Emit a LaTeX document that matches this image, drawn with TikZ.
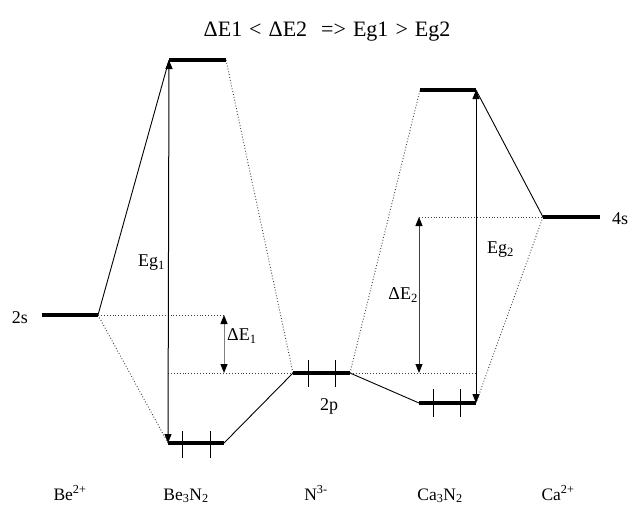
\documentclass[tikz,border=0pt]{standalone}
\usepackage{fontspec}
\setmainfont{Liberation Serif}
\usetikzlibrary{arrows.meta}
\tikzset{
  level/.style={line width=4pt, line cap=butt},
  link/.style={line width=0.9pt},
  dots/.style={line width=0.9pt, dotted, black!75},
  tick/.style={line width=1pt},
  gap/.style={line width=1pt, {Triangle[length=9pt,width=7pt,color=black]}-{Triangle[length=9pt,width=7pt,color=black]}},
  lbl/.style={font=\fontsize{18}{21}\selectfont, inner sep=0pt},
  bot/.style={font=\fontsize{17.5}{20}\selectfont, inner sep=0pt, anchor=base}
}
\begin{document}
\begin{tikzpicture}[x=1pt,y=-1pt]
\useasboundingbox (0,0) rectangle (629,504);
% level end points
\coordinate (beL) at (42,315);   \coordinate (beR) at (98,315);
\coordinate (btL) at (169,60);   \coordinate (btR) at (226,60);
\coordinate (bbL) at (168,443);  \coordinate (bbR) at (224,443);
\coordinate (nL) at (293,373);   \coordinate (nR) at (350,373);
\coordinate (ctL) at (420,90);   \coordinate (ctR) at (476,90);
\coordinate (cbL) at (419,403);  \coordinate (cbR) at (476,403);
\coordinate (caL) at (543,217);  \coordinate (caR) at (600,217);
% helper points
\coordinate (d1t) at (224,315);  \coordinate (d1b) at (224,373);
\coordinate (e1m) at (168,373);
\coordinate (d2t) at (419,217);  \coordinate (d2b) at (419,373);
\coordinate (e2m) at (476,373);
% connectors
\draw[link] (beR) -- (btL);
\draw[dots] (beR) -- (bbL);
\draw[dots] (beR) -- (d1t);
\draw[dots] (btR) -- (nL);
\draw[link] (bbR) -- (nL);
\draw[dots] (e1m) -- (nL);
\draw[dots] (nR) -- (ctL);
\draw[link] (nR) -- (cbL);
\draw[dots] (nR) -- (e2m);
\draw[dots] (d2t) -- (caL);
\draw[link] (caL) -- (ctR);
\draw[dots] (caL) -- (cbR);
% levels
\draw[level] (beL) -- (beR);
\draw[level] (btL) -- (btR);
\draw[level] (bbL) -- (bbR);
\draw[level] (nL) -- (nR);
\draw[level] (ctL) -- (ctR);
\draw[level] (cbL) -- (cbR);
\draw[level] (caL) -- (caR);
% electron ticks
\draw[tick] (182,431) -- (182,458);
\draw[tick] (210,431) -- (210,458);
\draw[tick] (308,360) -- (308,387);
\draw[tick] (335,360) -- (335,387);
\draw[tick] (433,389) -- (433,417);
\draw[tick] (460,389) -- (460,417);
% gap arrows
\draw[gap] (bbL) -- (btL);
\draw[gap, black!50] (d1t) -- (d1b);
\draw[gap, black!75] (d2t) -- (d2b);
\draw[gap] (cbR) -- (ctR);
% labels
\node[font=\fontsize{22}{26}\selectfont, anchor=base, inner sep=0pt] (title) at (327,36)
  {ΔE1\hspace{7pt}<\hspace{7pt}ΔE2\hspace{14pt}=>\hspace{7pt}Eg1\hspace{7pt}>\hspace{7pt}Eg2};
\node[lbl] (s2) at (20,318) {2s};
\node[lbl] (s4) at (620,219) {4s};
\node[lbl] (p2) at (329,406) {2p};
\node[lbl, anchor=east] (eg1) at (165,263) {Eg\textsubscript{1}};
\node[lbl, anchor=west] (de1) at (227,336) {ΔE\textsubscript{1}};
\node[lbl, anchor=east] (de2) at (418,295) {ΔE\textsubscript{2}};
\node[lbl, anchor=west] (eg2) at (487,250) {Eg\textsubscript{2}};
\node[bot] (lbe) at (70,500) {Be\textsuperscript{2+}};
\node[bot] (lbn) at (186,500) {Be\textsubscript{3}N\textsubscript{2}};
\node[bot] (ln) at (316,500) {N\textsuperscript{3-}};
\node[bot] (lcn) at (440,500) {Ca\textsubscript{3}N\textsubscript{2}};
\node[bot] (lca) at (558,500) {Ca\textsuperscript{2+}};
\end{tikzpicture}
\end{document}
